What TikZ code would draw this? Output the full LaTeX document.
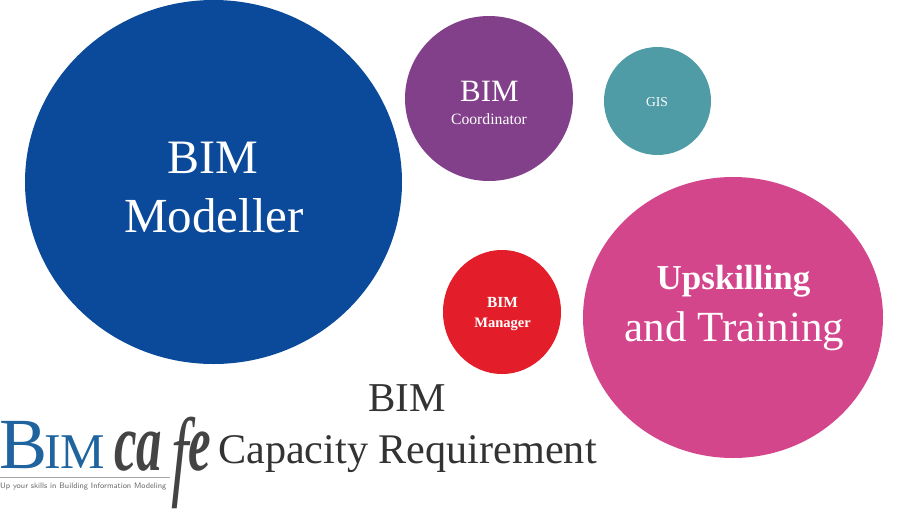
\documentclass[tikz,border=0pt]{standalone}
\usepackage{fontspec}
\setmainfont{Liberation Serif}
\usetikzlibrary{shapes.geometric}
\definecolor{cblue}{HTML}{0B4A9A}
\definecolor{cpurple}{HTML}{83408A}
\definecolor{cteal}{HTML}{4F9CA6}
\definecolor{cpink}{HTML}{D4468C}
\definecolor{cred}{HTML}{E31E2A}
\definecolor{logoblue}{HTML}{1F639F}
\definecolor{logogray}{HTML}{444444}
\definecolor{titlegray}{HTML}{333333}
\newcommand{\fsz}[1]{\fontsize{#1}{#1}\selectfont}
\tikzset{
  x=1pt,y=-1pt,
  blob/.style={ellipse,inner sep=0pt,outer sep=0pt},
  lbl/.style={inner sep=0pt,outer sep=0pt,anchor=base,text=white},
  ttl/.style={inner sep=0pt,outer sep=0pt,anchor=base,text=titlegray},
  logotxt/.style={inner sep=0pt,outer sep=0pt,anchor=base west,text=logoblue},
  cafetxt/.style={inner sep=0pt,outer sep=0pt,anchor=base west,text=logogray},
}
\begin{document}
\begin{tikzpicture}
\useasboundingbox (0,0) rectangle (900,523);
\fill[white] (0,0) rectangle (900,523);
\node[blob,fill=cblue,minimum width=377pt,minimum height=364pt] (modeller) at (213.5,182) {};
\node[blob,fill=cpurple,minimum width=168pt,minimum height=165pt] (coord) at (489,98.5) {};
\node[blob,fill=cteal,minimum width=107pt,minimum height=108pt] (gis) at (657.5,101) {};
\node[blob,fill=cpink,minimum width=300pt,minimum height=281pt] (up) at (733,317.5) {};
\node[blob,fill=cred,minimum width=118pt,minimum height=124pt] (mgr) at (502,312) {};
\node[lbl,font=\fsz{48}] (t1) at (213,173) {BIM};
\node[lbl,font=\fsz{49}] (t2) at (214,232) {Modeller};
\node[lbl,font=\fsz{31}] (t3) at (489.5,101) {BIM};
\node[lbl,font=\fsz{15.7}] (t4) at (489,124) {Coordinator};
\node[lbl,font=\fsz{13.6}] (t5) at (657,106) {GIS};
\node[lbl,font=\fsz{15.4}\bfseries] (t6) at (502.5,307) {BIM};
\node[lbl,font=\fsz{14.5}\bfseries] (t7) at (502.5,327) {Manager};
\node[lbl,font=\fsz{35}\bfseries] (t8) at (733.5,289) {Upskilling};
\node[lbl,font=\fsz{43}] (t9) at (734.5,341) {and Training};
\node[ttl,font=\fsz{41}] (t10) at (407,411) {BIM};
\node[ttl,font=\fsz{42.2}] (t11) at (407.5,463) {Capacity Requirement};
% logo
\node[logotxt,font=\fsz{72}] (lb) at (-1,468) {B};
\node[logotxt,font=\fsz{50}] (lim) at (44,468) {IM};
\node[cafetxt,font=\fsz{82}\itshape\bfseries,xscale=0.62] (lca) at (114,470) {ca};
\node[cafetxt,font=\fsz{100}\itshape,xscale=0.62] (lf) at (171,487) {f};
\node[cafetxt,font=\fsz{82}\itshape\bfseries,xscale=0.62] (le) at (188,470) {e};
\draw[gray!70,line width=0.6pt] (0,477) -- (170,477);
\node[inner sep=0pt,anchor=base west,text=logogray!80,font=\fsz{7.9}\sffamily] (tag) at (0,488) {Up your skills in Building Information Modeling};
\end{tikzpicture}
\end{document}
